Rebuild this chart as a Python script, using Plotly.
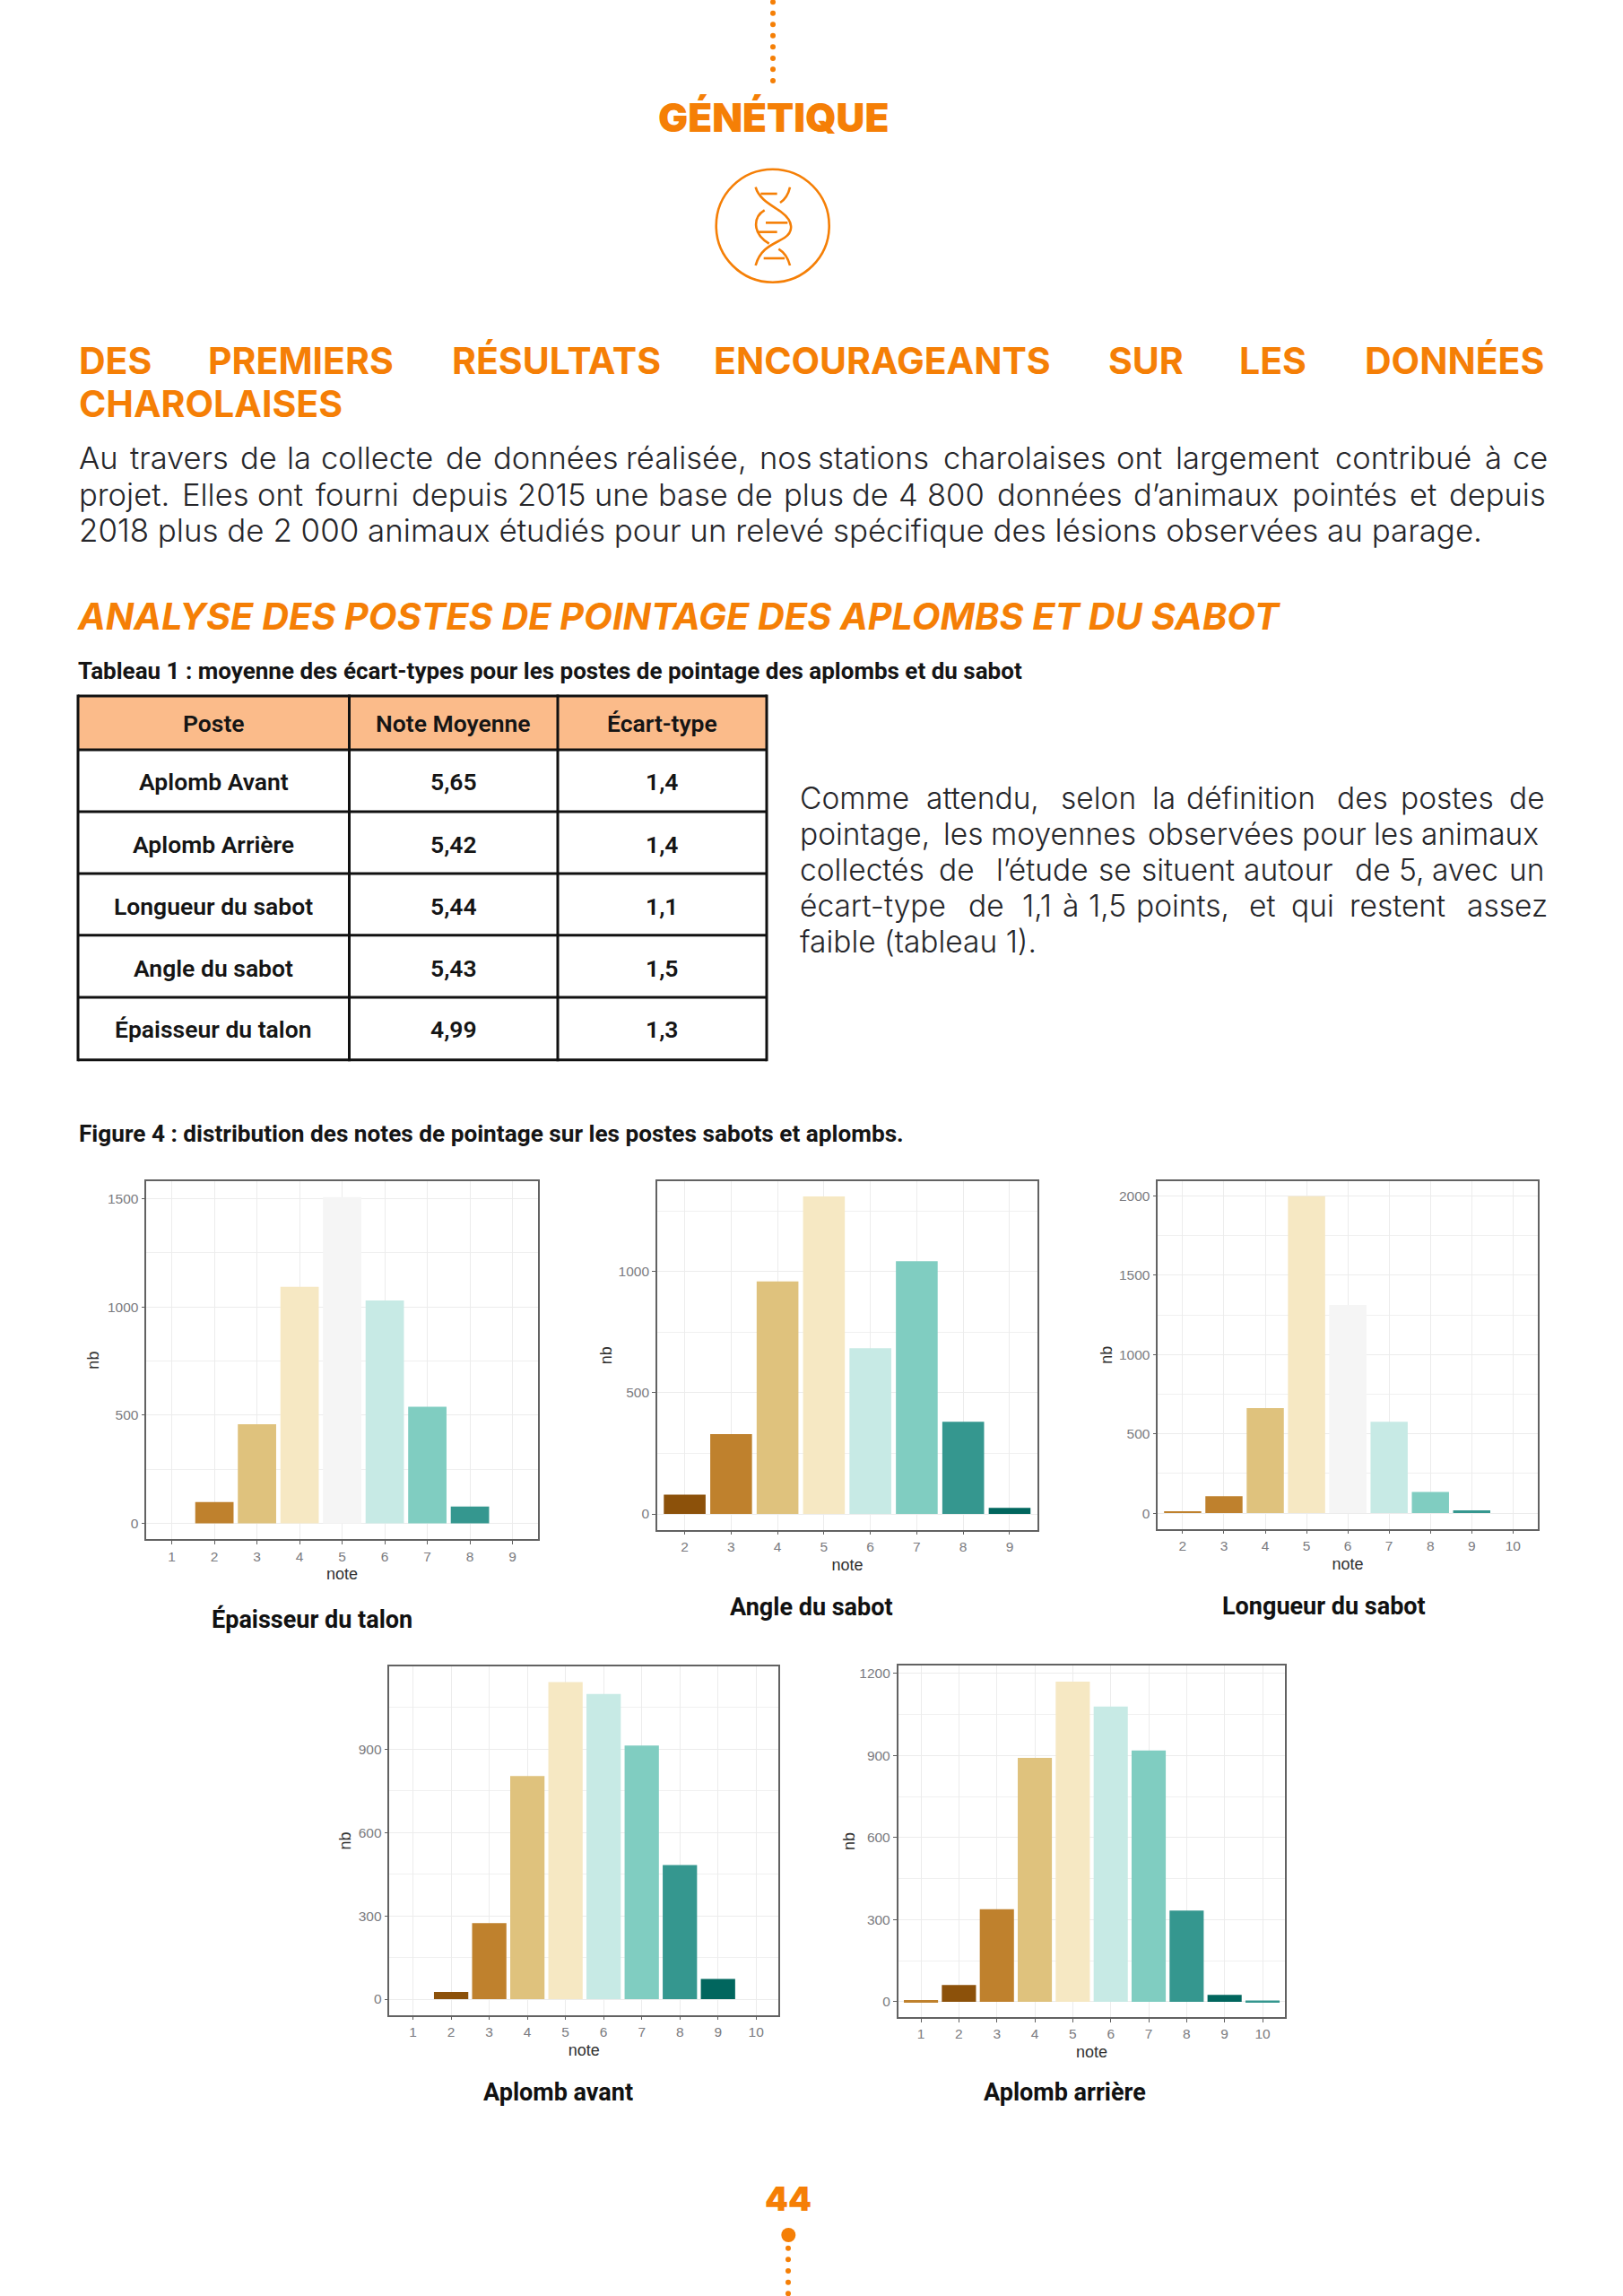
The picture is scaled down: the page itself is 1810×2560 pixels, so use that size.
import plotly.graph_objects as go

W, H = 1810, 2560
ORANGE = "#F57F06"
INK = "#26262a"

# ---------- data ----------
BROWN1, BROWN2, TAN, CREAM, GREY = "#8c510a", "#bf812d", "#dfc27d", "#f6e8c3", "#f5f5f5"
MINT, AQUA, TEAL, DTEAL = "#c7eae5", "#80cdc1", "#35978f", "#01665e"

talon_notes = [2, 3, 4, 5, 6, 7, 8]
talon_nb = [98, 458, 1093, 1507, 1029, 538, 77]
talon_colors = [BROWN2, TAN, CREAM, GREY, MINT, AQUA, TEAL]

angle_notes = [2, 3, 4, 5, 6, 7, 8, 9]
angle_nb = [80, 329, 959, 1310, 684, 1042, 380, 25]
angle_colors = [BROWN1, BROWN2, TAN, CREAM, MINT, AQUA, TEAL, DTEAL]

longueur_notes = [2, 3, 4, 5, 6, 7, 8, 9]
longueur_nb = [12, 107, 662, 1998, 1312, 576, 134, 18]
longueur_colors = [BROWN2, BROWN2, TAN, CREAM, GREY, MINT, AQUA, TEAL]

avant_notes = [2, 3, 4, 5, 6, 7, 8, 9]
avant_nb = [26, 274, 803, 1141, 1098, 913, 483, 73]
avant_colors = [BROWN1, BROWN2, TAN, CREAM, MINT, AQUA, TEAL, DTEAL]

arriere_notes = [1, 2, 3, 4, 5, 6, 7, 8, 9, 10]
arriere_nb = [6, 61, 338, 891, 1170, 1079, 918, 333, 25, 5]
arriere_colors = [BROWN2, BROWN1, BROWN2, TAN, CREAM, MINT, AQUA, TEAL, DTEAL, TEAL]

table_header = ["Poste", "Note Moyenne", "Écart-type"]
table_postes = ["Aplomb Avant", "Aplomb Arrière", "Longueur du sabot", "Angle du sabot", "Épaisseur du talon"]
table_moyennes = ["5,65", "5,42", "5,44", "5,43", "4,99"]
table_ecarts = ["1,4", "1,4", "1,1", "1,5", "1,3"]

# ---------- helpers ----------
def px(x): return x / W
def py(y): return 1 - y / H

fig = go.Figure()
annots, shapes = [], []

def text(s, x, y, size, font, color=INK, weight=400, anchor="left", style="normal"):
    annots.append(dict(text=s, x=px(x), y=py(y), xref="paper", yref="paper", showarrow=False,
                       xanchor=anchor, yanchor="middle", align=anchor,
                       font=dict(family=font, size=size, color=color, weight=weight, style=style)))

def words(items, origin, scale, y, size, font, color=INK, weight=400):
    for s, z in items:
        text(s, origin + z / scale, y, size, font, color, weight)

def dot(x, y, r):
    shapes.append(dict(type="circle", xref="paper", yref="paper", x0=px(x - r), x1=px(x + r),
                       y0=py(y + r), y1=py(y - r), fillcolor=ORANGE, line_width=0))

def stroke(cmds):
    out = []
    for c in cmds:
        if isinstance(c, str):
            out.append(c)
        else:
            out.append(f"{px(700 + c[0] / 3):.5f},{py(c[1] / 3):.5f}")
    path = " ".join(out)
    shapes.append(dict(type="path", path=path, xref="paper", yref="paper",
                       line=dict(color=ORANGE, width=2.6), fillcolor="rgba(0,0,0,0)"))

# ---------- charts ----------
charts = [
    dict(n=talon_notes, v=talon_nb, c=talon_colors, box=(163.3, 599.6, 1316.9, 1716.3),
         xr=(0.404, 9.59), yr=(-74, 1581), ticks=list(range(1, 10)), dy=500, st=5),
    dict(n=angle_notes, v=angle_nb, c=angle_colors, box=(732.9, 1157, 1316.9, 1705.6),
         xr=(1.407, 9.6), yr=(-65, 1373), ticks=list(range(2, 10)), dy=500, st=2),
    dict(n=longueur_notes, v=longueur_nb, c=longueur_colors, box=(1291.3, 1714.5, 1316.9, 1704.6),
         xr=(1.40, 10.59), yr=(-99, 2093), ticks=list(range(2, 11)), dy=500, st=3),
    dict(n=avant_notes, v=avant_nb, c=avant_colors, box=(434.4, 867.9, 1858.2, 2246.7),
         xr=(0.384, 10.58), yr=(-57, 1197), ticks=list(range(1, 11)), dy=300, st=3),
    dict(n=arriere_notes, v=arriere_nb, c=arriere_colors, box=(1001.6, 1433.4, 1856.9, 2249),
         xr=(0.398, 10.6), yr=(-56, 1229), ticks=list(range(1, 11)), dy=300, st=0),
]

axes = {}
AX_FONT = "Liberation Sans"
for i, ch in enumerate(charts):
    sfx = "" if i == 0 else str(i + 1)
    fig.add_trace(go.Bar(x=ch["n"], y=ch["v"], width=0.9, marker=dict(color=ch["c"], line_width=0),
                         xaxis="x" + sfx, yaxis="y" + sfx, showlegend=False))
    x0, x1, y0, y1 = ch["box"]
    common = dict(showline=True, linecolor="#626262", linewidth=1.5, mirror=True,
                  ticks="outside", ticklen=4, tickwidth=1.2, tickcolor="#606060",
                  tickfont=dict(family=AX_FONT, size=15.5, color="#7b7b80"),
                  showgrid=True, gridcolor="#ececec", gridwidth=1.4, zeroline=False)
    axes["xaxis" + sfx] = dict(common, domain=[px(x0), px(x1)], range=list(ch["xr"]), anchor="y" + sfx,
                               tickmode="array", tickvals=ch["ticks"],
                               title=dict(text="note", standoff=6,
                                          font=dict(family=AX_FONT, size=18, color="#303030")))
    axes["yaxis" + sfx] = dict(common, domain=[py(y1), py(y0)], range=list(ch["yr"]), anchor="x" + sfx,
                               tick0=0, dtick=ch["dy"],
                               minor=dict(dtick=ch["dy"] / 2, tick0=0, showgrid=True, gridcolor="#f0f0f0",
                                          gridwidth=1.4, ticks=""),
                               title=dict(text="nb", standoff=ch["st"],
                                          font=dict(family=AX_FONT, size=18, color="#303030")))

# ---------- table ----------
DIN = "Roboto"
TBL = "#111111"
TX = (87, 389.5, 622, 855)
TY = (776, 836, 905, 974, 1042.7, 1112, 1181.7)
COLX = (238, 505.6, 738)
ROWY = (872, 941, 1010, 1079.3, 1147.6)
shapes.append(dict(type="rect", xref="paper", yref="paper", x0=px(TX[0]), x1=px(TX[3]), y0=py(TY[1]), y1=py(TY[0]),
                   fillcolor="#FBBB8A", line_width=0))
for x in TX:
    shapes.append(dict(type="line", xref="paper", yref="paper", x0=px(x), x1=px(x), y0=py(TY[0] - 1.5), y1=py(TY[-1] + 1.5),
                       line=dict(color=TBL, width=3)))
for y in TY:
    shapes.append(dict(type="line", xref="paper", yref="paper", x0=px(TX[0]), x1=px(TX[3]), y0=py(y), y1=py(y),
                       line=dict(color=TBL, width=3)))
for s, x in zip(table_header, COLX):
    text(s, x, 807, 26.5, DIN, "#151515", 600, "center")
for col, x in zip((table_postes, table_moyennes, table_ecarts), COLX):
    for s, y in zip(col, ROWY):
        text(s, x, y, 26.5, DIN, "#151515", 600, "center")

# ---------- page text ----------
HEAD = "Inter"
BODY = "Inter"
text("GÉNÉTIQUE", 862, 131, 44, HEAD, ORANGE, 900, "center")

words([("DES", 11), ("PREMIERS", 280), ("RÉSULTATS", 787), ("ENCOURAGEANTS", 1333)], 80, 1.867, 402, 41, HEAD, ORANGE, 700)
words([("SUR", 623), ("LES", 897), ("DONNÉES", 1158)], 900, 1.867, 402, 41, HEAD, ORANGE, 700)
text("CHAROLAISES", 85.5, 450, 41, HEAD, ORANGE, 700)

S = 34.5
S2 = 33.5
words([("Au", 11), ("travers", 117), ("de", 347), ("la", 445), ("collecte", 515), ("de", 775),
       ("données", 873), ("réalisée,", 1150), ("nos", 1428)], 80, 1.867, 511, S, BODY, INK, 300)
words([("stations", 19), ("charolaises", 280), ("ont", 640), ("largement", 763), ("contribué", 1095),
       ("à", 1407), ("ce", 1465)], 900, 1.867, 511, S, BODY, INK, 300)
words([("projet.", 11), ("Elles", 225), ("ont", 383), ("fourni", 505), ("depuis", 703), ("2015", 925),
       ("une", 1085), ("base", 1217), ("de", 1380), ("plus", 1478)], 80, 1.867, 551, S, BODY, INK, 300)
words([("de", 90), ("4", 187), ("800", 247), ("données", 393), ("d’animaux", 675), ("pointés", 1007),
       ("et", 1250), ("depuis", 1333)], 900, 1.867, 551, S, BODY, INK, 300)
text("2018 plus de 2 000 animaux étudiés pour un relevé spécifique des lésions observées au parage.",
     85.5, 591, 34.9, BODY, INK, 300)

text("ANALYSE DES POSTES DE POINTAGE DES APLOMBS ET DU SABOT", 84, 687, 41.3, HEAD, ORANGE, 700, style="italic")
text("Tableau 1 : moyenne des écart-types pour les postes de pointage des aplombs et du sabot", 85, 748, 26, DIN, "#151515", 700)

words([("Comme", 18), ("attendu,", 276), ("selon", 548), ("la", 734), ("définition", 804), ("des", 1111),
       ("postes", 1240), ("de", 1461)], 880, 1.823, 890, S2, BODY, INK, 300)
words([("pointage,", 18), ("les", 310), ("moyennes", 406), ("observées", 726), ("pour", 1040), ("les", 1185),
       ("animaux", 1281)], 880, 1.823, 930, S2, BODY, INK, 300)
words([("collectés", 18), ("de", 301), ("l’étude", 417), ("se", 625), ("situent", 712), ("autour", 921),
       ("de", 1146), ("5,", 1236), ("avec", 1304), ("un", 1461)], 880, 1.823, 970, S2, BODY, INK, 300)
words([("écart-type", 18), ("de", 361), ("1,1", 470), ("à", 553), ("1,5", 606), ("points,", 701), ("et", 931),
       ("qui", 1018), ("restent", 1136), ("assez", 1374)], 880, 1.823, 1010, S2, BODY, INK, 300)
text("faible (tableau 1).", 890, 1050, S2, BODY, INK, 300)

text("Figure 4 : distribution des notes de pointage sur les postes sabots et aplombs.", 86, 1264, 26.2, DIN, "#151515", 700)

text("Épaisseur du talon", 347.6, 1805, 27, DIN, "#111111", 700, "center")
text("Angle du sabot", 905, 1792, 27, DIN, "#111111", 700, "center")
text("Longueur du sabot", 1476, 1791, 27, DIN, "#111111", 700, "center")
text("Aplomb avant", 622.6, 2333, 27, DIN, "#111111", 700, "center")
text("Aplomb arrière", 1187, 2333, 27, DIN, "#111111", 700, "center")

text("44", 879, 2451, 37, HEAD, ORANGE, 900, "center")

# ---------- decoration ----------
for y in (2.3, 14.7, 27.3, 39.7, 52.3, 65, 77.3, 90):
    dot(862, y, 3)
dot(879.3, 2492, 8)
for y in (2506.7, 2519.3, 2532, 2544.7, 2557.3):
    dot(879, y, 3)

shapes.append(dict(type="circle", xref="paper", yref="paper", x0=px(798.7), x1=px(924.7),
                   y0=py(314.7), y1=py(188.7), line=dict(color=ORANGE, width=2.6),
                   fillcolor="rgba(0,0,0,0)"))
stroke(["M", (428, 626), "C", (440, 670), (490, 690), (515, 710), "C", (555, 740), (555, 775), (525, 795),
        "C", (495, 815), (445, 825), (428, 888)])
stroke(["M", (543, 626), "C", (538, 648), (525, 668), (510, 678)])
stroke(["M", (458, 703), "C", (420, 725), (415, 780), (473, 815)])
stroke(["M", (505, 833), "C", (525, 845), (537, 865), (543, 888)])
for y, a, b in ((648, 445, 500), (745, 462, 535), (776, 435, 500), (864, 455, 525)):
    stroke(["M", (a, y), "L", (b, y)])

fig.update_layout(width=W, height=H, margin=dict(l=0, r=0, t=0, b=0), paper_bgcolor="white",
                  plot_bgcolor="white", showlegend=False, bargap=0.1,
                  annotations=annots, shapes=shapes, **axes)

fig.write_html("out.html", config={"displayModeBar": False},
               post_script="document.body.style.margin='0';")
